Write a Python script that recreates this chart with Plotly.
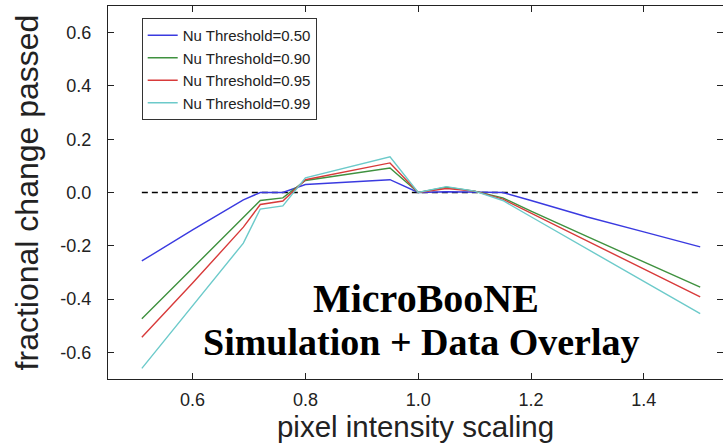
import plotly.graph_objects as go

# pixel intensity scaling values
scaling = [0.51, 0.6, 0.69, 0.72, 0.76, 0.8, 0.95, 1.0, 1.05, 1.1, 1.15, 1.2, 1.3, 1.4, 1.5]

# fractional change passed, per Nu threshold
thr_050 = [-0.257, -0.14, -0.028, 0.0, 0.0, 0.03, 0.048, 0.0, 0.003, 0.002, 0.0, -0.03, -0.092, -0.148, -0.204]
thr_090 = [-0.474, -0.285, -0.096, -0.03, -0.02, 0.045, 0.092, 0.0, 0.02, 0.005, -0.02, -0.07, -0.166, -0.26, -0.355]
thr_095 = [-0.543, -0.34, -0.13, -0.045, -0.032, 0.048, 0.111, 0.0, 0.015, 0.005, -0.025, -0.077, -0.182, -0.287, -0.392]
thr_099 = [-0.66, -0.425, -0.19, -0.062, -0.05, 0.055, 0.134, 0.0, 0.022, 0.005, -0.03, -0.091, -0.212, -0.334, -0.455]

series_names = ["Nu Threshold=0.50", "Nu Threshold=0.90", "Nu Threshold=0.95", "Nu Threshold=0.99"]
series_values = [thr_050, thr_090, thr_095, thr_099]
series_colors = ["#3a3ae0", "#3f913f", "#d83a3a", "#6ccaca"]

x_ticks = [0.6, 0.8, 1.0, 1.2, 1.4]
y_ticks = [-0.6, -0.4, -0.2, 0.0, 0.2, 0.4, 0.6]

fig = go.Figure()

# zero reference line
fig.add_trace(go.Scatter(
    x=[scaling[0], scaling[-1]], y=[0, 0], mode="lines",
    line=dict(color="black", width=1.3, dash="6px,4px"),
    showlegend=False, hoverinfo="skip"))

for name, vals, col in zip(series_names, series_values, series_colors):
    fig.add_trace(go.Scatter(x=scaling, y=vals, mode="lines", name=name,
                             line=dict(color=col, width=1.4)))

W, H = 723, 447
L, R, T, B = 108, 0, 6, 68
plot_w = W - L - R
plot_h = H - T - B
fig.update_layout(
    width=W, height=H,
    margin=dict(l=L, r=R, t=T, b=B, pad=0, autoexpand=False),
    paper_bgcolor="white", plot_bgcolor="white",
    font=dict(family="Liberation Sans, Arial, sans-serif", color="#222"),
    showlegend=True,
    legend=dict(
        x=(141.7 - L) / plot_w, y=(H - B - 18) / plot_h,
        xanchor="left", yanchor="top",
        bordercolor="#333", borderwidth=1, bgcolor="white",
        font=dict(size=15, color="#222"),
        itemwidth=30,
    ),
    xaxis=dict(
        range=[0.45, 0.45 + plot_w / 564.0],
        tickvals=x_ticks, ticktext=[f"{v:.1f}" for v in x_ticks],
        ticks="inside", ticklen=6, tickcolor="#222", tickwidth=1,
        showline=True, linecolor="#222", linewidth=1.2, mirror="ticks",
        showgrid=False, zeroline=False, automargin=False,
        tickfont=dict(size=18, color="#222"),
        ticklabelstandoff=4,
        title=dict(text="pixel intensity scaling", font=dict(size=29.5, color="#222"), standoff=4),
    ),
    yaxis=dict(
        range=[-0.7, 0.7],
        tickvals=y_ticks, ticktext=[f"{v:.1f}" for v in y_ticks],
        ticks="inside", ticklen=6, tickcolor="#222", tickwidth=1,
        showline=True, linecolor="#222", linewidth=1.2, mirror="ticks",
        showgrid=False, zeroline=False, automargin=False,
        tickfont=dict(size=18, color="#222"),
        ticklabelstandoff=12,
        title=dict(text="fractional change passed", font=dict(size=32, color="#222"), standoff=12),
    ),
    annotations=[
        dict(text="<b>MicroBooNE</b>", x=1.014, y=-0.398, xref="x", yref="y",
             showarrow=False, xanchor="center", yanchor="middle",
             font=dict(family="Liberation Serif, Times New Roman, serif", size=40, color="black")),
        dict(text="<b>Simulation + Data Overlay</b>", x=1.005, y=-0.56, xref="x", yref="y",
             showarrow=False, xanchor="center", yanchor="middle",
             font=dict(family="Liberation Serif, Times New Roman, serif", size=38, color="black")),
    ],
)

fig.write_html("out.html", config={"displayModeBar": False},
               post_script="document.body.style.margin='0';")
